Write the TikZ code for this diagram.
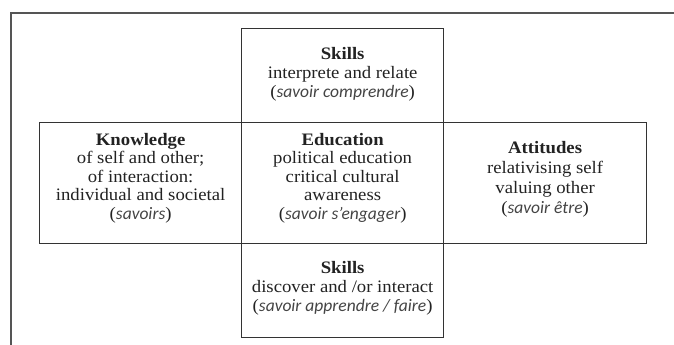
\documentclass[tikz,border=0pt]{standalone}
\usepackage{fontspec}
\setmainfont{Liberation Serif}[FakeStretch=1.07]
\newfontfamily\savfont{Carlito}
\definecolor{txt}{HTML}{222222}
\definecolor{itc}{HTML}{444444}
\definecolor{boxc}{HTML}{333333}
\definecolor{framec}{HTML}{555555}
\newcommand{\sav}[1]{{\savfont\itshape\color{itc}#1}}
\begin{document}
\begin{tikzpicture}[x=1pt,y=-1pt,
  cell/.style={draw=boxc,line width=1.3pt,inner sep=0pt,anchor=north west},
  label/.style={align=center,text=txt,inner sep=0pt,font=\fontsize{17.5}{18.6}\selectfont}]
\useasboundingbox (0,0) rectangle (674,345);
\coordinate (f0) at (11,345);
\coordinate (f1) at (11,13);
\coordinate (f2) at (674,13);
\draw[framec,line width=1.1pt] (f0) -- (f1) -- (f2);
% boxes
\node[cell,minimum width=202pt,minimum height=94pt] (top) at (241,28) {};
\node[cell,minimum width=202pt,minimum height=121pt] (left) at (39,122) {};
\node[cell,minimum width=202pt,minimum height=121pt] (mid) at (241,122) {};
\node[cell,minimum width=203pt,minimum height=121pt] (right) at (443,122) {};
\node[cell,minimum width=202pt,minimum height=94pt] (bot) at (241,243) {};
% texts
\node[label,font=\fontsize{17.5}{19}\selectfont] (toptxt) at ([yshift=1pt]top.center) {\textbf{Skills}\\interprete and relate\\(\sav{savoir comprendre})};
\node[label] (lefttxt) at ([yshift=5pt]left.center) {\textbf{Knowledge}\\of self and other;\\of interaction:\\individual and societal\\(\sav{savoirs})};
\node[label] (midtxt) at ([yshift=5pt]mid.center) {\textbf{Education}\\political education\\critical cultural\\awareness\\(\sav{savoir s’engager})};
\node[label,font=\fontsize{17.5}{20}\selectfont] (righttxt) at ([yshift=4pt]right.center) {\textbf{Attitudes}\\relativising self\\valuing other\\(\sav{savoir être})};
\node[label,font=\fontsize{17.5}{19}\selectfont] (bottxt) at ([yshift=2pt]bot.center) {\textbf{Skills}\\discover and /or interact\\(\sav{savoir apprendre / faire})};
\end{tikzpicture}
\end{document}
